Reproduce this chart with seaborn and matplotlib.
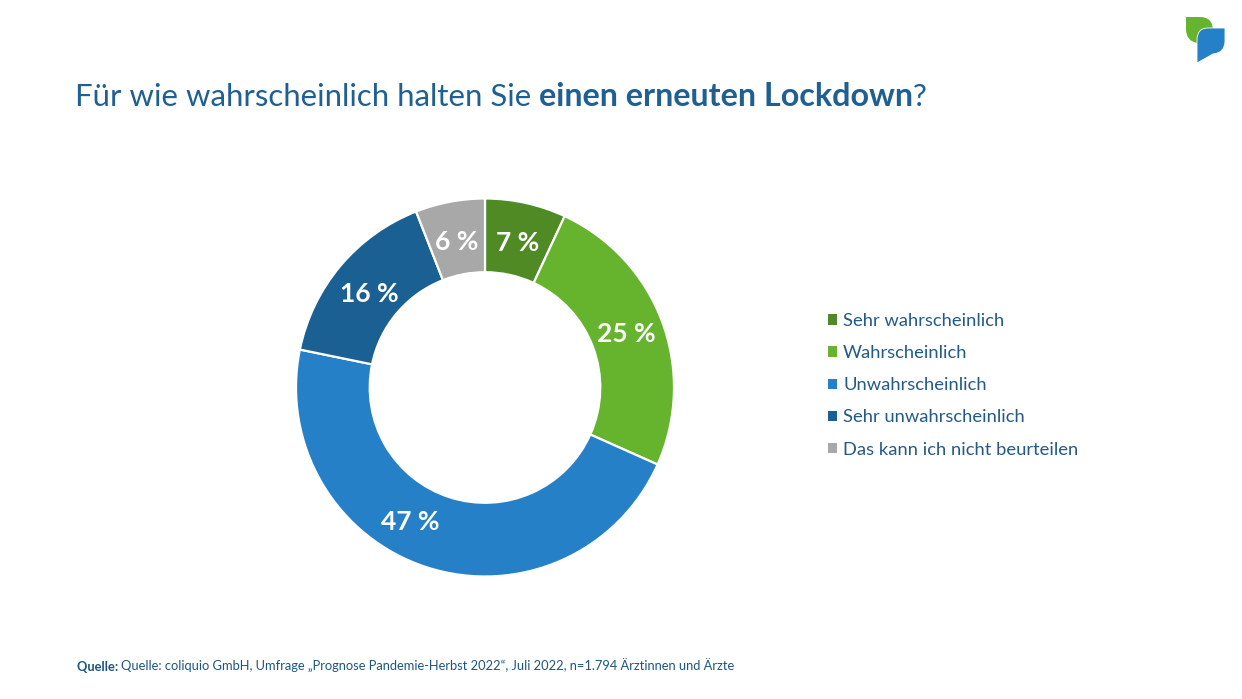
import matplotlib.pyplot as plt
import seaborn as sns
from matplotlib.patches import Patch, PathPatch
from matplotlib.path import Path

sns.set_theme(style="white")
plt.rcParams['font.family'] = ['Lato', 'DejaVu Sans']

categories = ["Sehr wahrscheinlich", "Wahrscheinlich", "Unwahrscheinlich",
              "Sehr unwahrscheinlich", "Das kann ich nicht beurteilen"]
values = [7, 25, 47, 16, 6]
colors = sns.color_palette(["#4f8a24", "#66b32e", "#2680c8", "#1b6093", "#a8a8a9"])

title_parts = [("Für wie wahrscheinlich halten Sie ", "normal"),
               ("einen erneuten Lockdown", "bold"),
               ("?", "normal")]
source_parts = [("Quelle: ", "bold"),
                ("Quelle: coliquio GmbH, Umfrage „Prognose Pandemie-Herbst 2022“, "
                 "Juli 2022, n=1.794 Ärztinnen und Ärzte", "normal")]

W, H = 1242, 699
TEXT = "#1f5f92"
LEGEND_TEXT = "#245a85"

fig = plt.figure(figsize=(W / 100, H / 100), dpi=100, facecolor="white")


def chained_text(x, y, parts, sizes, color):
    # one text after the other, since the weight changes inside the line
    renderer = fig.canvas.get_renderer()
    for s, weight in parts:
        t = fig.text(x / W, 1 - y / H, s.replace(" ", "\u00a0"), fontsize=sizes[weight], color=color,
                     fontweight=weight, va="baseline", ha="left")
        x = t.get_window_extent(renderer).x1


# donut
cx, cy, r = 485, 387.5, 189
ax = fig.add_axes([(cx - r) / W, 1 - (cy + r) / H, 2 * r / W, 2 * r / H])
wedges, _, pct = ax.pie(values, colors=colors, startangle=90, counterclock=False,
                        radius=1, autopct=lambda p: f"{p:.0f} %", pctdistance=0.8,
                        wedgeprops=dict(width=0.39, edgecolor="white", linewidth=1.6),
                        textprops=dict(color="white", fontsize=19, fontweight="bold"))
ax.set_xlim(-1, 1)
ax.set_ylim(-1, 1)

# labels sit a bit lower than the wedge centre, the 47 % one is pushed to the left
for t in pct:
    px, py = t.get_position()
    t.set_position((px, py - 0.018))
px, py = pct[1].get_position()
pct[1].set_position((px, py + 0.02))
px, py = pct[2].get_position()
pct[2].set_position((px - 0.153, py + 0.066))

handles = [Patch(facecolor=c, edgecolor="none") for c in colors]
fig.legend(handles, categories, loc="upper left", bbox_to_anchor=(828 / W, 1 - 313 / H),
           frameon=False, fontsize=13.2, labelcolor=LEGEND_TEXT,
           handlelength=0.5, handleheight=0.5, handletextpad=0.33,
           labelspacing=0.88, borderpad=0, borderaxespad=0)

chained_text(75, 106, title_parts, {"normal": 22.4, "bold": 23.2}, TEXT)
chained_text(77, 671, source_parts, {"normal": 9.3, "bold": 9.3}, "#1c5580")

# logo top right
logo = fig.add_axes([0, 0, 1, 1], zorder=5)
logo.set_xlim(0, W)
logo.set_ylim(H, 0)
logo.axis("off")
leaf = Path([(1186, 17), (1200, 17), (1213, 17), (1213, 31),
             (1213, 37), (1197, 43), (1186, 41), (1186, 29), (1186, 17)],
            [Path.MOVETO, Path.LINETO, Path.CURVE3, Path.CURVE3,
             Path.CURVE3, Path.CURVE3, Path.CURVE3, Path.CURVE3, Path.CLOSEPOLY])
bubble = Path([(1197, 40), (1197, 28), (1208, 28), (1225, 28), (1225, 41),
               (1225, 53), (1213, 54), (1197, 63), (1197, 40)],
              [Path.MOVETO, Path.CURVE3, Path.CURVE3, Path.LINETO, Path.LINETO,
               Path.CURVE3, Path.CURVE3, Path.LINETO, Path.CLOSEPOLY])
logo.add_patch(PathPatch(leaf, facecolor="#66b32e", edgecolor="none"))
logo.add_patch(PathPatch(bubble, facecolor="#2680c8", edgecolor="white", linewidth=0.6))

fig.savefig("out.png", dpi=100)
